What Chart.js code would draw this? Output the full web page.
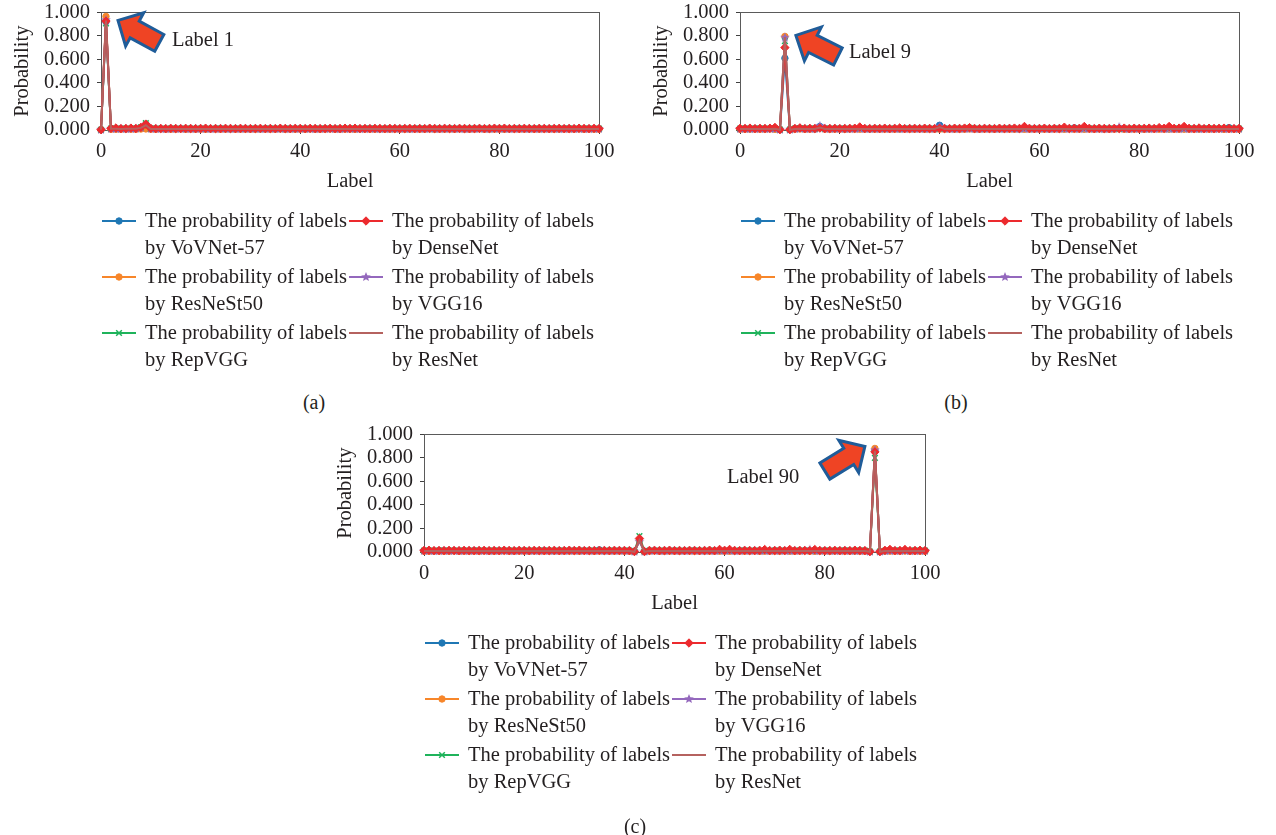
<!DOCTYPE html>
<html>
<head>
<meta charset="utf-8">
<script src="https://cdn.jsdelivr.net/npm/chart.js@4.4.1/dist/chart.umd.min.js"></script>
<style>
html,body{margin:0;padding:0;background:#fff;}
#wrap{position:relative;width:1276px;height:835px;overflow:hidden;font-family:"Liberation Serif",serif;color:#231f20;}
canvas{position:absolute;}
.cap{position:absolute;font-size:20px;line-height:20px;transform:translate(-50%,-50%);white-space:nowrap;}
</style>
</head>
<body>
<div id="wrap">
<canvas id="ca" width="640" height="397" style="left:0px;top:-7px"></canvas>
<canvas id="cb" width="637" height="397" style="left:639px;top:-7px"></canvas>
<canvas id="cc" width="640" height="420" style="left:323px;top:415px"></canvas>
<div class="cap" style="left:314px;top:402px">(a)</div>
<div class="cap" style="left:956px;top:402px">(b)</div>
<div class="cap" style="left:635px;top:826px">(c)</div>
</div>
<script>
// ---------- DATA ----------
const X_LABELS = [0,1,2,3,4,5,6,7,8,9,10,11,12,13,14,15,16,17,18,19,20,21,22,23,24,25,26,27,28,29,30,31,32,33,34,35,36,37,38,39,40,41,42,43,44,45,46,47,48,49,50,51,52,53,54,55,56,57,58,59,60,61,62,63,64,65,66,67,68,69,70,71,72,73,74,75,76,77,78,79,80,81,82,83,84,85,86,87,88,89,90,91,92,93,94,95,96,97,98,99,100];

const SERIES_NAMES = [
  "The probability of labels\nby VoVNet-57",
  "The probability of labels\nby DenseNet",
  "The probability of labels\nby ResNeSt50",
  "The probability of labels\nby VGG16",
  "The probability of labels\nby RepVGG",
  "The probability of labels\nby ResNet"
];

const X_AXIS_TITLE = "Label";
const Y_AXIS_TITLE = "Probability";

// (a)
const A_VOVNET = [
.002,.92,.012,.009,.01,.008,.011,.012,.02,.045,
.012,.009,.01,.008,.01,.009,.011,.008,.01,.009,
.01,.008,.009,.01,.011,.009,.008,.01,.009,.01,
.009,.01,.008,.011,.01,.009,.01,.008,.01,.009,
.011,.009,.01,.008,.009,.01,.011,.009,.008,.01,
.01,.008,.009,.01,.011,.009,.008,.01,.009,.01,
.009,.01,.008,.011,.01,.009,.01,.008,.01,.009,
.011,.009,.01,.008,.009,.01,.011,.009,.008,.01,
.01,.008,.009,.01,.011,.009,.008,.01,.009,.01,
.009,.01,.008,.011,.01,.009,.01,.008,.01,.009,
.01];
const A_DENSENET = [
.003,.925,.014,.017,.012,.013,.016,.013,.022,.05,
.014,.012,.013,.012,.014,.013,.012,.014,.013,.012,
.013,.015,.012,.013,.012,.014,.013,.012,.014,.013,
.012,.013,.014,.012,.013,.012,.015,.013,.012,.014,
.013,.012,.014,.013,.012,.013,.014,.012,.013,.015,
.013,.015,.012,.013,.012,.014,.013,.012,.014,.013,
.012,.013,.014,.012,.013,.012,.015,.013,.012,.014,
.013,.012,.014,.013,.012,.013,.014,.012,.013,.015,
.013,.015,.012,.013,.012,.014,.013,.012,.014,.013,
.012,.013,.014,.012,.013,.012,.015,.013,.012,.014,
.012];
const A_RESNEST50 = [
.001,.965,.006,.007,.006,.008,.007,.006,.008,.009,
.007,.006,.008,.007,.006,.007,.008,.006,.007,.007,
.007,.006,.008,.007,.006,.007,.008,.006,.007,.007,
.007,.006,.008,.007,.006,.007,.008,.006,.007,.007,
.007,.006,.008,.007,.006,.007,.008,.006,.007,.007,
.007,.006,.008,.007,.006,.007,.008,.006,.007,.007,
.007,.006,.008,.007,.006,.007,.008,.006,.007,.007,
.007,.006,.008,.007,.006,.007,.008,.006,.007,.007,
.007,.006,.008,.007,.006,.007,.008,.006,.007,.007,
.007,.006,.008,.007,.006,.007,.008,.006,.007,.007,
.006];
const A_VGG16 = [
.002,.935,.01,.009,.01,.01,.009,.011,.018,.045,
.009,.01,.009,.008,.01,.009,.01,.009,.008,.01,
.009,.01,.009,.008,.01,.009,.01,.009,.008,.01,
.009,.01,.009,.008,.01,.009,.01,.009,.008,.01,
.009,.01,.009,.008,.01,.009,.01,.009,.008,.01,
.009,.01,.009,.008,.01,.009,.01,.009,.008,.01,
.009,.01,.009,.008,.01,.009,.01,.009,.008,.01,
.009,.01,.009,.008,.01,.009,.01,.009,.008,.01,
.009,.01,.009,.008,.01,.009,.01,.009,.008,.01,
.009,.01,.009,.008,.01,.009,.01,.009,.008,.01,
.009];
const A_REPVGG = [
.002,.905,.012,.011,.01,.012,.01,.011,.022,.058,
.011,.012,.01,.011,.012,.011,.01,.012,.011,.01,
.011,.012,.01,.011,.012,.011,.01,.012,.011,.01,
.011,.012,.01,.011,.012,.011,.01,.012,.011,.01,
.011,.012,.01,.011,.012,.011,.01,.012,.011,.01,
.011,.012,.01,.011,.012,.011,.01,.012,.011,.01,
.011,.012,.01,.011,.012,.011,.01,.012,.011,.01,
.011,.012,.01,.011,.012,.011,.01,.012,.011,.01,
.011,.012,.01,.011,.012,.011,.01,.012,.011,.01,
.011,.012,.01,.011,.012,.011,.01,.012,.011,.01,
.011];
const A_RESNET = [
.002,.93,.01,.01,.009,.01,.01,.01,.018,.04,
.008,.009,.008,.008,.009,.008,.009,.008,.008,.009,
.008,.009,.008,.008,.009,.008,.009,.008,.008,.009,
.008,.009,.008,.008,.009,.008,.009,.008,.008,.009,
.008,.009,.008,.008,.009,.008,.009,.008,.008,.009,
.008,.009,.008,.008,.009,.008,.009,.008,.008,.009,
.008,.009,.008,.008,.009,.008,.009,.008,.008,.009,
.008,.009,.008,.008,.009,.008,.009,.008,.008,.009,
.008,.009,.008,.008,.009,.008,.009,.008,.008,.009,
.008,.009,.008,.008,.009,.008,.009,.008,.008,.009,
.008];

// (b)
const B_VOVNET = [
.009,.01,.008,.011,.01,.009,.01,.008,.003,.61,
.003,.01,.015,.009,.01,.008,.03,.012,.009,.01,
.01,.008,.009,.01,.011,.009,.008,.01,.009,.01,
.009,.01,.008,.011,.01,.009,.01,.008,.01,.009,
.04,.012,.01,.008,.009,.01,.011,.009,.008,.01,
.01,.008,.009,.01,.011,.009,.008,.01,.009,.01,
.009,.01,.008,.011,.01,.009,.01,.018,.01,.009,
.011,.009,.01,.008,.009,.01,.011,.009,.008,.01,
.01,.008,.009,.01,.011,.009,.008,.01,.009,.01,
.009,.01,.008,.011,.01,.009,.01,.008,.02,.009,
.01];
const B_DENSENET = [
.014,.013,.016,.012,.014,.013,.015,.022,.003,.70,
.003,.013,.018,.012,.014,.013,.016,.012,.013,.014,
.012,.013,.014,.015,.026,.013,.012,.014,.013,.015,
.012,.014,.017,.012,.013,.014,.012,.015,.013,.012,
.014,.013,.012,.015,.013,.016,.02,.013,.012,.014,
.013,.012,.015,.013,.014,.016,.013,.03,.014,.012,
.013,.015,.012,.014,.013,.024,.013,.015,.014,.03,
.014,.012,.015,.013,.012,.014,.013,.016,.012,.015,
.013,.014,.016,.013,.02,.015,.03,.014,.016,.03,
.014,.013,.017,.012,.015,.013,.014,.016,.013,.012,
.013];
const B_RESNEST50 = [
.007,.006,.008,.007,.006,.007,.008,.006,.002,.795,
.002,.007,.008,.006,.007,.008,.02,.007,.006,.007,
.007,.006,.008,.007,.006,.007,.008,.006,.007,.007,
.007,.006,.008,.007,.006,.007,.008,.006,.007,.007,
.007,.006,.008,.007,.006,.007,.008,.006,.007,.007,
.007,.006,.008,.007,.006,.007,.008,.006,.007,.007,
.007,.006,.008,.007,.006,.007,.008,.006,.007,.007,
.007,.006,.008,.007,.006,.007,.008,.006,.007,.007,
.007,.006,.008,.007,.006,.007,.008,.006,.007,.007,
.007,.006,.008,.007,.006,.007,.008,.006,.007,.007,
.006];
const B_VGG16 = [
.009,.01,.009,.008,.01,.009,.01,.009,.003,.785,
.003,.009,.012,.01,.009,.01,.035,.011,.009,.01,
.009,.01,.009,.008,.01,.009,.01,.009,.008,.01,
.009,.01,.009,.008,.01,.009,.01,.009,.008,.01,
.03,.011,.009,.008,.01,.009,.01,.009,.008,.01,
.009,.01,.009,.008,.01,.009,.01,.009,.008,.01,
.009,.01,.009,.008,.01,.009,.01,.009,.008,.01,
.009,.01,.009,.008,.01,.009,.025,.009,.008,.01,
.009,.01,.009,.008,.01,.009,.01,.009,.008,.01,
.009,.01,.009,.008,.01,.009,.01,.009,.008,.01,
.009];
const B_REPVGG = [
.011,.012,.01,.011,.012,.011,.01,.014,.003,.755,
.003,.012,.014,.011,.012,.011,.015,.012,.011,.01,
.011,.012,.01,.011,.012,.011,.01,.012,.011,.01,
.011,.012,.01,.011,.012,.011,.01,.012,.011,.01,
.015,.012,.01,.011,.012,.011,.018,.012,.011,.01,
.011,.012,.01,.011,.012,.011,.01,.012,.011,.01,
.011,.012,.01,.011,.012,.011,.01,.012,.011,.01,
.011,.012,.01,.011,.012,.011,.01,.012,.011,.01,
.011,.012,.01,.011,.012,.011,.01,.012,.011,.01,
.011,.012,.01,.011,.012,.011,.01,.012,.011,.01,
.011];
const B_RESNET = [
.008,.009,.008,.008,.009,.008,.009,.01,.002,.79,
.002,.008,.01,.008,.009,.008,.02,.009,.008,.009,
.008,.009,.008,.008,.009,.008,.009,.008,.008,.009,
.008,.009,.008,.008,.009,.008,.009,.008,.008,.009,
.025,.009,.008,.008,.009,.008,.009,.008,.008,.009,
.008,.009,.008,.008,.009,.008,.009,.008,.008,.009,
.008,.009,.008,.008,.009,.008,.009,.008,.008,.009,
.008,.009,.008,.008,.009,.008,.009,.008,.008,.009,
.008,.009,.008,.008,.009,.008,.009,.008,.008,.009,
.008,.009,.008,.008,.009,.008,.009,.008,.008,.009,
.008];

// (c)
const C_VOVNET = [
.009,.01,.008,.011,.01,.009,.01,.008,.01,.009,
.011,.009,.01,.008,.009,.01,.011,.009,.008,.01,
.01,.008,.009,.01,.011,.009,.008,.01,.009,.01,
.01,.008,.011,.01,.009,.018,.008,.01,.009,.011,
.009,.01,.003,.10,.003,.01,.011,.009,.008,.01,
.01,.008,.009,.01,.011,.009,.008,.01,.009,.01,
.009,.01,.008,.011,.01,.009,.01,.008,.01,.009,
.011,.009,.01,.008,.009,.01,.011,.009,.008,.01,
.01,.008,.009,.01,.011,.009,.008,.01,.009,.003,
.86,.003,.008,.011,.01,.009,.01,.008,.01,.009,
.01];
const C_DENSENET = [
.013,.015,.012,.013,.012,.014,.013,.012,.014,.013,
.012,.013,.014,.012,.013,.012,.015,.013,.012,.014,
.013,.012,.014,.013,.012,.013,.014,.012,.013,.015,
.013,.015,.012,.013,.012,.014,.013,.012,.014,.013,
.013,.012,.004,.115,.004,.013,.014,.012,.013,.015,
.012,.013,.012,.014,.013,.012,.013,.015,.012,.022,
.014,.022,.013,.012,.014,.013,.012,.014,.021,.012,
.013,.015,.012,.022,.012,.014,.013,.012,.021,.013,
.012,.013,.014,.012,.013,.012,.015,.013,.012,.003,
.85,.003,.014,.022,.012,.013,.021,.012,.013,.015,
.012];
const C_RESNEST50 = [
.007,.006,.008,.007,.006,.007,.008,.006,.007,.007,
.007,.006,.008,.007,.006,.007,.008,.006,.007,.007,
.007,.006,.008,.007,.006,.007,.008,.006,.007,.007,
.007,.006,.008,.007,.006,.007,.008,.006,.007,.007,
.007,.006,.002,.10,.002,.007,.008,.006,.007,.007,
.007,.006,.008,.007,.006,.007,.008,.006,.007,.007,
.007,.006,.008,.007,.006,.007,.008,.006,.007,.007,
.007,.006,.008,.007,.006,.007,.008,.006,.007,.007,
.007,.006,.008,.007,.006,.007,.008,.006,.007,.002,
.88,.002,.008,.007,.006,.007,.008,.006,.007,.007,
.006];
const C_VGG16 = [
.009,.01,.009,.008,.01,.009,.01,.009,.008,.01,
.009,.01,.009,.008,.01,.009,.01,.009,.008,.01,
.009,.01,.009,.008,.01,.009,.01,.009,.008,.01,
.009,.01,.009,.008,.01,.009,.01,.009,.008,.01,
.009,.01,.003,.09,.003,.009,.01,.009,.008,.01,
.009,.01,.009,.008,.01,.009,.01,.009,.008,.01,
.009,.01,.009,.008,.01,.009,.01,.009,.008,.01,
.009,.01,.009,.008,.01,.009,.01,.02,.008,.01,
.009,.01,.009,.008,.01,.009,.01,.009,.008,.003,
.865,.003,.009,.008,.01,.009,.01,.009,.008,.01,
.009];
const C_REPVGG = [
.011,.012,.01,.011,.012,.011,.01,.012,.011,.01,
.011,.012,.01,.011,.012,.011,.01,.012,.011,.01,
.011,.012,.01,.011,.012,.011,.01,.012,.011,.01,
.011,.012,.01,.011,.012,.011,.01,.012,.011,.01,
.011,.012,.004,.135,.004,.011,.01,.012,.011,.01,
.011,.012,.01,.011,.012,.011,.01,.012,.011,.01,
.011,.012,.01,.011,.012,.011,.01,.012,.011,.01,
.011,.012,.01,.011,.012,.011,.01,.012,.011,.01,
.011,.012,.01,.011,.012,.011,.01,.012,.011,.003,
.80,.003,.01,.011,.012,.011,.01,.012,.011,.01,
.011];
const C_RESNET = [
.008,.009,.008,.008,.009,.008,.009,.008,.008,.009,
.008,.009,.008,.008,.009,.008,.009,.008,.008,.009,
.008,.009,.008,.008,.009,.008,.009,.008,.008,.009,
.008,.009,.008,.008,.009,.008,.009,.008,.008,.009,
.008,.009,.002,.10,.002,.008,.009,.008,.008,.009,
.008,.009,.008,.008,.009,.008,.009,.008,.008,.009,
.008,.009,.008,.008,.009,.008,.009,.008,.008,.009,
.008,.009,.008,.008,.009,.008,.009,.008,.008,.009,
.008,.009,.008,.008,.009,.008,.009,.008,.008,.002,
.86,.002,.008,.008,.009,.008,.009,.008,.008,.009,
.008];

const SERIES_A = [A_VOVNET, A_DENSENET, A_RESNEST50, A_VGG16, A_REPVGG, A_RESNET];
const SERIES_B = [B_VOVNET, B_DENSENET, B_RESNEST50, B_VGG16, B_REPVGG, B_RESNET];
const SERIES_C = [C_VOVNET, C_DENSENET, C_RESNEST50, C_VGG16, C_REPVGG, C_RESNET];

// ---------- STYLE ----------
const FONT_FAMILY = '"Liberation Serif", "Times New Roman", serif';
const FONT_SIZE = 20.5;
const TEXT_COLOR = '#231f20';
const AXIS_COLOR = '#404040';

function starMarker(color, r) {
  const c = document.createElement('canvas');
  const s = Math.ceil(r * 2 + 2);
  c.width = s; c.height = s;
  const g = c.getContext('2d');
  g.fillStyle = color;
  g.beginPath();
  for (let k = 0; k < 10; k++) {
    const rad = k % 2 ? r * 0.45 : r;
    const a = -Math.PI / 2 + k * Math.PI / 5;
    const x = s / 2 + rad * Math.cos(a), y = s / 2 + rad * Math.sin(a);
    if (k) g.lineTo(x, y); else g.moveTo(x, y);
  }
  g.closePath();
  g.fill();
  return c;
}

const STYLES = [
  {color: '#1f77b4', style: 'circle',  r: 3.2, bw: 1,   order: 5},
  {color: '#ec2a2e', style: 'rectRot', r: 4.2, bw: 1,   order: 1},
  {color: '#f7862a', style: 'circle',  r: 3.2, bw: 1,   order: 4},
  {color: '#9468bd', style: null,      r: 4,   bw: 1,   order: 2},
  {color: '#1fb35b', style: 'crossRot',r: 4,   bw: 1.5, order: 3},
  {color: '#b5625f', style: 'circle',  r: 0,   bw: 0,   order: 0}
];
STYLES[3].style = starMarker(STYLES[3].color, 5);

// ---------- PLUGINS ----------
const framePlugin = {
  id: 'plotFrame',
  beforeDatasetsDraw(chart) {
    const a = chart.chartArea, ctx = chart.ctx;
    ctx.save();
    ctx.strokeStyle = '#5a5a5a';
    ctx.lineWidth = 1;
    ctx.strokeRect(Math.round(a.left) + 0.5, Math.round(a.top) + 0.5, Math.round(a.right - a.left), Math.round(a.bottom - a.top));
    ctx.restore();
  }
};

const legendPlugin = {
  id: 'gridLegend',
  afterDraw(chart, args, o) {
    const ctx = chart.ctx, a = chart.chartArea;
    ctx.save();
    ctx.font = o.font;
    ctx.textBaseline = 'middle';
    ctx.textAlign = 'left';
    chart.data.datasets.forEach((ds, i) => {
      const col = i % 2, row = Math.floor(i / 2);
      const x0 = a.left + o.offsetX + col * o.colWidth;
      const y0 = a.bottom + o.offsetY + row * o.rowHeight;
      ctx.strokeStyle = ds.borderColor;
      ctx.lineWidth = ds.borderWidth;
      ctx.beginPath();
      ctx.moveTo(x0, y0);
      ctx.lineTo(x0 + o.lineLen, y0);
      ctx.stroke();
      if (ds.pointRadius > 0) {
        ctx.fillStyle = ds.pointBackgroundColor;
        ctx.strokeStyle = ds.pointBorderColor;
        ctx.lineWidth = ds.pointBorderWidth;
        Chart.helpers.drawPoint(ctx, {pointStyle: ds.pointStyle, radius: ds.pointRadius, rotation: 0, borderWidth: ds.pointBorderWidth}, x0 + o.lineLen / 2, y0);
      }
      ctx.fillStyle = o.color;
      ds.label.split('\n').forEach((line, k) => {
        ctx.fillText(line, x0 + o.textOffset, y0 + o.textShift + k * o.lineHeight);
      });
    });
    ctx.restore();
  }
};

const arrowPlugin = {
  id: 'peakArrow',
  afterDatasetsDraw(chart, args, o) {
    const xs = chart.scales.x, ys = chart.scales.y;
    let top = 0;
    chart.data.datasets.forEach(ds => { top = Math.max(top, ds.data[o.index]); });
    const px = xs.getPixelForValue(chart.data.labels[o.index]);
    const py = ys.getPixelForValue(top);
    const tx = px + o.tipDx, ty = py + o.tipDy;
    const ctx = chart.ctx;
    ctx.save();
    ctx.translate(tx, ty);
    ctx.rotate(o.angle * Math.PI / 180);
    const L = o.length, hl = o.headLength, hw = o.headWidth, sw = o.shaftWidth;
    ctx.beginPath();
    ctx.moveTo(0, 0);
    ctx.lineTo(-hl, -hw);
    ctx.lineTo(-hl, -sw);
    ctx.lineTo(-L, -sw);
    ctx.lineTo(-L, sw);
    ctx.lineTo(-hl, sw);
    ctx.lineTo(-hl, hw);
    ctx.closePath();
    ctx.fillStyle = o.fill;
    ctx.fill();
    ctx.lineJoin = 'miter';
    ctx.lineWidth = o.lineWidth;
    ctx.strokeStyle = o.stroke;
    ctx.stroke();
    ctx.restore();
    ctx.save();
    ctx.font = o.font;
    ctx.fillStyle = o.color;
    ctx.textBaseline = 'middle';
    ctx.textAlign = 'left';
    ctx.fillText(o.text, tx + o.textDx, ty + o.textDy);
    ctx.restore();
  }
};

// ---------- BUILD ----------
const AXIS_H = 64;
const AXIS_W = 101;
const PLOT_TOP = 19;      // in canvas coordinates
const PLOT_BOTTOM = 137;  // in canvas coordinates
function buildChart(id, series, padRight, arrowCfg) {
  const canvas = document.getElementById(id);
  const font = {family: FONT_FAMILY, size: FONT_SIZE};
  const datasets = STYLES.map((st, i) => ({
    label: SERIES_NAMES[i],
    data: series[i],
    borderColor: st.color,
    backgroundColor: st.color,
    pointBackgroundColor: st.color,
    pointBorderColor: st.color,
    borderWidth: 2,
    pointStyle: st.style,
    pointRadius: st.r,
    pointBorderWidth: st.bw,
    pointHoverRadius: st.r,
    order: st.order,
    tension: 0,
    clip: false
  }));
  const gridOpts = {display: true, drawOnChartArea: false, drawTicks: true, tickLength: 4, color: AXIS_COLOR, lineWidth: 1};
  return new Chart(canvas, {
    type: 'line',
    data: {labels: X_LABELS, datasets},
    options: {
      responsive: false,
      animation: false,
      devicePixelRatio: 1,
      events: [],
      layout: {padding: {left: 0, top: PLOT_TOP, right: padRight, bottom: canvas.height - PLOT_BOTTOM - AXIS_H}},
      plugins: {
        legend: {display: false},
        tooltip: {enabled: false},
        gridLegend: {offsetX: 1, offsetY: 91, textShift: 1, colWidth: 247, rowHeight: 56, lineLen: 34, textOffset: 43, lineHeight: 26.5,
                     font: FONT_SIZE + 'px ' + FONT_FAMILY, color: TEXT_COLOR},
        peakArrow: arrowCfg
      },
      scales: {
        x: {
          type: 'linear', min: 0, max: 100,
          ticks: {stepSize: 20, font, color: TEXT_COLOR, padding: 5, maxRotation: 0, autoSkip: false},
          grid: gridOpts,
          border: {color: AXIS_COLOR, width: 1},
          title: {display: true, text: X_AXIS_TITLE, font, color: TEXT_COLOR, padding: {top: 0, bottom: 0}},
          afterFit: s => { s.height = AXIS_H; }
        },
        y: {
          min: 0, max: 1,
          ticks: {stepSize: 0.2, autoSkip: false, font, color: TEXT_COLOR, padding: 7, callback: v => Number(v).toFixed(3)},
          grid: gridOpts,
          border: {color: AXIS_COLOR, width: 1},
          title: {display: true, text: Y_AXIS_TITLE, font, color: TEXT_COLOR, padding: {top: 10, bottom: 0}},
          afterFit: s => { s.width = AXIS_W; }
        }
      }
    },
    plugins: [framePlugin, legendPlugin, arrowPlugin]
  });
}

const arrowBase = {length: 47, headLength: 19, headWidth: 19, shaftWidth: 9.5, fill: '#ef4424', stroke: '#1f5c99', lineWidth: 3,
                   font: FONT_SIZE + 'px ' + FONT_FAMILY, color: TEXT_COLOR};

buildChart('ca', SERIES_A, 41, Object.assign({}, arrowBase, {index: 1, tipDx: 12, tipDy: 4, angle: -151.5, text: 'Label 1', textDx: 54, textDy: 20}));
buildChart('cb', SERIES_B, 37, Object.assign({}, arrowBase, {index: 9, tipDx: 11, tipDy: -1, angle: -153.4, text: 'Label 9', textDx: 53, textDy: 17}));
buildChart('cc', SERIES_C, 38, Object.assign({}, arrowBase, {index: 90, tipDx: -10, tipDy: -2, angle: -31.6, text: 'Label 90', textDx: -138, textDy: 31}));
</script>
</body>
</html>
